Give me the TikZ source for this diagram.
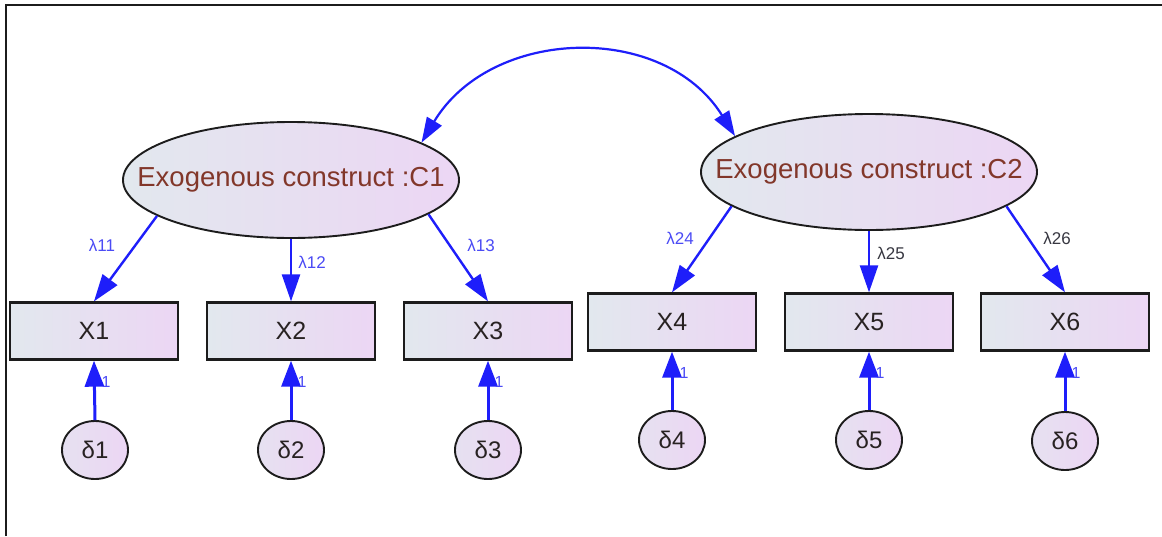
\documentclass[tikz,border=0pt]{standalone}
\usepackage{fontspec}
\setmainfont{Liberation Sans}
\usetikzlibrary{arrows.meta,shapes.geometric}

\definecolor{pathblue}{RGB}{30,30,250}
\definecolor{lblblue}{RGB}{75,75,245}
\definecolor{lbldark}{RGB}{55,55,65}
\definecolor{constructtext}{RGB}{130,55,42}
\definecolor{varText}{RGB}{40,34,34}
\definecolor{fillL}{RGB}{226,232,238}
\definecolor{fillR}{RGB}{236,214,244}
\definecolor{edge}{RGB}{28,28,28}

\tikzset{
  latent/.style={ellipse, draw=edge, line width=1.9pt,
    left color=fillL, right color=fillR,
    minimum width=336pt, minimum height=116pt,
    inner xsep=-45pt, inner ysep=0pt,
    text=constructtext, font=\fontsize{27.5}{30}\selectfont},
  observed/.style={rectangle, draw=edge, line width=2.3pt,
    left color=fillL, right color=fillR,
    minimum width=168pt, minimum height=57pt, inner sep=0pt,
    text=varText, font=\fontsize{25}{27}\selectfont},
  errterm/.style={ellipse, draw=edge, line width=1.9pt,
    left color=fillL!60!fillR, right color=fillR,
    minimum width=66pt, minimum height=58pt, inner sep=0pt,
    text=varText, font=\fontsize{24}{26}\selectfont},
  loading/.style={draw=pathblue, line width=2.4pt,
    -{Triangle[length=27pt,width=18pt]}},
  errpath/.style={draw=pathblue, line width=3pt,
    -{Triangle[length=26pt,width=19pt]}},
  covar/.style={draw=pathblue, line width=2.2pt,
    {Triangle[length=25pt,width=17pt]}-{Triangle[length=25pt,width=17pt]}},
  lbl/.style={inner sep=0pt, text=lblblue, font=\fontsize{17}{19}\selectfont},
  lbldk/.style={lbl, text=lbldark},
  unit/.style={inner sep=0pt, text=lblblue, font=\fontsize{16}{18}\selectfont}
}

\begin{document}
\begin{tikzpicture}[x=1pt,y=1pt]
  \useasboundingbox (0,0) rectangle (1162,-536);
  \fill[white] (0,0) rectangle (1162,-536);
  % frame edges
  \draw[line width=1.8pt, edge] (6,-536) -- (6,-5) -- (1162,-5);

  % latent constructs
  \node[latent] (C1) at (291,-180) {Exogenous construct :C1};
  \node[latent] (C2) at (869,-172) {Exogenous construct :C2};

  % indicators
  \node[observed] (X1) at (94,-331)  {X1};
  \node[observed] (X2) at (291,-331) {X2};
  \node[observed] (X3) at (488,-331) {X3};
  \node[observed] (X4) at (672,-322) {X4};
  \node[observed] (X5) at (869,-322) {X5};
  \node[observed] (X6) at (1065,-322) {X6};

  % measurement errors
  \node[errterm] (d1) at (95,-450)  {δ1};
  \node[errterm] (d2) at (291,-450) {δ2};
  \node[errterm] (d3) at (488,-450) {δ3};
  \node[errterm] (d4) at (672,-440) {δ4};
  \node[errterm] (d5) at (869,-440) {δ5};
  \node[errterm] (d6) at (1065,-441) {δ6};

  % covariance between the constructs
  \draw[covar] (C1.16) to[out=59,in=122,looseness=1.1] (C2.165);

  % factor loadings
  \draw[loading] (C1.195) -- (X1.north);
  \draw[loading] (C1.south) -- (X2.north);
  \draw[loading] (C1.346) -- (X3.north);
  \draw[loading] (C2.194) -- (X4.north);
  \draw[loading] (C2.south) -- (X5.north);
  \draw[loading] (C2.346) -- (X6.north);

  \node[lbl]   (l11) at (102,-245) {λ11};
  \node[lbl]   (l12) at (312,-262) {λ12};
  \node[lbl]   (l13) at (481,-245) {λ13};
  \node[lbl]   (l24) at (680,-238) {λ24};
  \node[lbldk] (l25) at (891,-253) {λ25};
  \node[lbldk] (l26) at (1057,-238) {λ26};

  % error paths
  \foreach \i in {1,...,6} {
    \draw[errpath] (d\i.north) -- (X\i.south);
  }
  \node[unit] (u1) at (106,-382) {1};
  \node[unit] (u2) at (302,-382) {1};
  \node[unit] (u3) at (499,-382) {1};
  \node[unit] (u4) at (684,-373) {1};
  \node[unit] (u5) at (880,-373) {1};
  \node[unit] (u6) at (1076,-373) {1};
\end{tikzpicture}
\end{document}
